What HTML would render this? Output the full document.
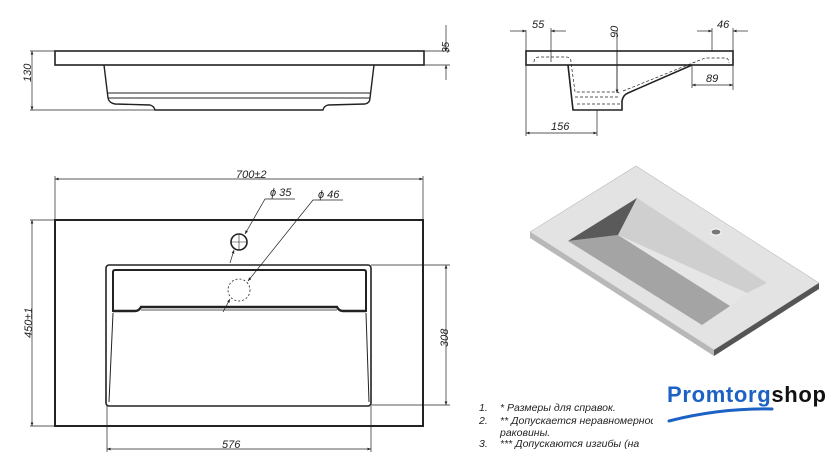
<!DOCTYPE html>
<html><head><meta charset="utf-8"><style>
html,body{margin:0;padding:0;background:#fff;width:840px;height:472px;overflow:hidden}
svg{display:block}
text{font-family:"Liberation Sans",sans-serif;font-style:italic;fill:#222}
</style></head><body>
<svg width="840" height="472" viewBox="0 0 840 472" xmlns="http://www.w3.org/2000/svg">
<defs>
<marker id="a" viewBox="0 0 10 10" refX="10" refY="5" markerWidth="7" markerHeight="5" orient="auto-start-reverse"><path d="M0,1 L10,5 L0,9z" fill="#222"/></marker>
<clipPath id="c"><rect x="470" y="395" width="183" height="60"/></clipPath>
</defs>
<g stroke="#222" fill="none">
<rect x="55" y="51" width="369" height="14" stroke-width="1.6"/>
<path d="M104,65 L108,98 Q109,103 115,104 L150,105 Q154,106 155,110 L323,110 Q324,106 328,105 L365,104 Q370,103 370,98 L374,65" stroke-width="1.4"/>
<path d="M107,93 L371,93 M108,98 L370,98" stroke-width="1"/>
<g stroke-width="0.7">
<path d="M30,51 L55,51 M30,110 L155,110"/>
<path d="M32,51 L32,110" marker-start="url(#a)" marker-end="url(#a)"/>
<path d="M424,51 L450,51 M424,65 L450,65"/>
<path d="M446,25 L446,51" marker-end="url(#a)"/>
<path d="M446,80 L446,65" marker-end="url(#a)"/>
</g>
<rect x="526" y="51" width="207" height="14" stroke-width="1.6"/>
<path d="M568,65 L573,110 L622,110 L622,101 Q623,95 628,93 L692,65" stroke-width="1.6"/>
<g stroke-width="0.7" stroke-dasharray="3,2">
<path d="M534,62 Q534,57 540,57 L566,57 Q571,57 571,62 L575,92 L618,92 L620,94"/>
<path d="M575,97 L620,97 M577,104 L620,104"/>
<path d="M623,91 L705,58 L725,58 Q729,58 729,63"/>
</g>
<g stroke-width="0.7">
<path d="M526,30 L526,136 M551,28 L551,62 M712,28 L712,51 M733,28 L733,90 M692,65 L692,88 M597,110 L597,136 M617,30 L617,93"/>
<path d="M510,31 L526,31" marker-end="url(#a)"/><path d="M566,31 L551,31" marker-end="url(#a)"/>
<path d="M697,31 L712,31" marker-end="url(#a)"/><path d="M748,31 L733,31" marker-end="url(#a)"/>
<path d="M617,50 L617,93" marker-end="url(#a)"/>
<path d="M692,85 L733,85" marker-start="url(#a)" marker-end="url(#a)"/>
<path d="M526,133 L597,133" marker-start="url(#a)" marker-end="url(#a)"/>
</g>
<rect x="55" y="220" width="368" height="206" stroke-width="2"/>
<rect x="106" y="265" width="265" height="141" rx="3" stroke-width="1.6"/>
<path d="M113,312 L113,272 Q113,270 115,270 L364,270 Q366,270 366,272 L366,312" stroke-width="2"/>
<path d="M113,311 L135,311 Q139,311 141,307 L337,307 Q339,311 343,311 L366,311" stroke-width="2.4"/>
<path d="M141,310 L337,310" stroke-width="0.8"/>
<path d="M113,313 L109,402 M366,313 L369,402" stroke-width="1"/>
<circle cx="239" cy="242" r="8" stroke-width="1.6"/>
<path d="M231,242 L247,242 M239,234 L239,250" stroke-width="0.6"/>
<circle cx="239" cy="290" r="11" stroke-width="0.8" stroke-dasharray="2,2"/>
<g stroke-width="0.7">
<path d="M55,176 L55,220 M423,176 L423,220 M30,220 L55,220 M30,426 L55,426 M371,265 L450,265 M371,405 L450,405 M107,406 L107,452 M371,406 L371,452"/>
<path d="M55,179 L423,179" marker-start="url(#a)" marker-end="url(#a)"/>
<path d="M32,220 L32,426" marker-start="url(#a)" marker-end="url(#a)"/>
<path d="M446,265 L446,405" marker-start="url(#a)" marker-end="url(#a)"/>
<path d="M107,449 L371,449" marker-start="url(#a)" marker-end="url(#a)"/>
<path d="M295,199 L265,199 L245,234" marker-end="url(#a)"/>
<path d="M230,263 L234,250" marker-end="url(#a)"/>
<path d="M343,200 L313,200 L248,281" marker-end="url(#a)"/>
<path d="M223,312 L230,299" marker-end="url(#a)"/>
</g>
</g>
<g font-size="11">
<text x="426" y="40" transform="rotate(-90 444 35)" font-size="10">35</text>
<text x="19" y="80" transform="rotate(-90 26 75)">130</text>
<text x="532" y="28">55</text>
<text x="717" y="28">46</text>
<text x="616" y="44" transform="rotate(-90 614 40)">90</text>
<text x="706" y="82">89</text>
<text x="551" y="130">156</text>
<text x="236" y="178">700±2</text>
<text x="270" y="196">ϕ 35</text>
<text x="318" y="198">ϕ 46</text>
<text x="12" y="328" transform="rotate(-90 27 323)">450±1</text>
<text x="435" y="342" transform="rotate(-90 444 338)">308</text>
<text x="222" y="448">576</text>
</g>
<polygon points="530,232 636,166 819,283 714,350" fill="#e3e3e3" stroke="#bbb" stroke-width="0.6"/>
<polygon points="530,232 714,350 714,356 530,238" fill="#b8b8b8"/>
<polygon points="714,350 819,283 819,289 714,356" fill="#555"/>
<polygon points="637,198 767,283 747,293 618,235" fill="#cfcfcf"/>
<polygon points="618,235 747,293 730,306" fill="#e6e6e6"/>
<polygon points="568,241 618,235 730,306 702,325" fill="#a4a4a4"/>
<polygon points="568,241 637,198 618,235" fill="#5a5a5a"/>
<ellipse cx="716" cy="232" rx="5" ry="3" fill="#777" stroke="#fff" stroke-width="1"/>
<g font-size="10.5" clip-path="url(#c)">
<text x="479" y="411">1.</text><text x="500" y="411">*  Размеры для справок.</text>
<text x="479" y="424">2.</text><text x="500" y="424">** Допускается неравномерность</text>
<text x="500" y="436">раковины.</text>
<text x="479" y="447">3.</text><text x="500" y="447">*** Допускаются изгибы (на</text>
</g>
<text x="667" y="402" font-size="22" font-weight="bold" textLength="159" style="font-style:normal;fill:#1c62c4">Promtorg<tspan style="fill:#111">shop</tspan></text>
<path d="M669,421 Q720,408 772,409" stroke="#1c62c4" stroke-width="3" fill="none" stroke-linecap="round"/>
</svg>
</body></html>
